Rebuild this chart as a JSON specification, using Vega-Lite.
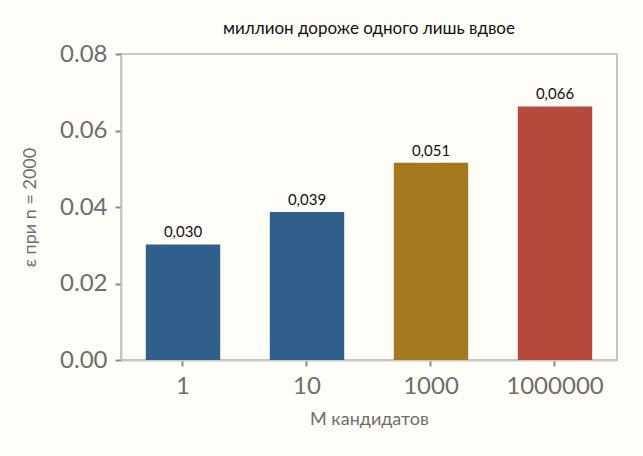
{
  "$schema": "https://vega.github.io/schema/vega-lite/v6.json",
  "autosize": {"type": "none"},
  "padding": {"left": 121, "top": 54, "right": 26, "bottom": 96},
  "width": 496,
  "height": 306,
  "background": "#fffdf7",
  "title": {
    "text": "миллион дороже одного лишь вдвое",
    "font": "Lato",
    "fontSize": 17,
    "fontWeight": "normal",
    "color": "#111111",
    "offset": 4
  },
  "config": {
    "view": {"stroke": "#c8c8c0", "strokeWidth": 2},
    "axis": {
      "labelFont": "Lato",
      "titleFont": "Lato",
      "labelColor": "#6e6e6a",
      "titleColor": "#6e6e6a",
      "domainColor": "#c8c8c0",
      "domainWidth": 2,
      "tickColor": "#8a8a86",
      "tickWidth": 2,
      "tickSize": 6,
      "grid": false,
      "labelFontSize": 24,
      "titleFontSize": 18,
      "titleFontWeight": "normal"
    }
  },
  "data": {
    "values": [
      {"M": "1", "eps": 0.0302, "label": "0,030", "group": "a"},
      {"M": "10", "eps": 0.0387, "label": "0,039", "group": "a"},
      {"M": "1000", "eps": 0.0516, "label": "0,051", "group": "b"},
      {"M": "1000000", "eps": 0.0663, "label": "0,066", "group": "c"}
    ]
  },
  "encoding": {
    "x": {
      "field": "M",
      "type": "ordinal",
      "sort": null,
      "title": "M кандидатов",
      "scale": {"paddingInner": 0.4, "paddingOuter": 0.2},
      "axis": {"labelAngle": 0, "labelPadding": 8, "titlePadding": 12}
    },
    "y": {
      "field": "eps",
      "type": "quantitative",
      "title": "ε при n = 2000",
      "scale": {"domain": [0, 0.08], "nice": false},
      "axis": {"values": [0, 0.02, 0.04, 0.06, 0.08], "format": ".2f", "labelPadding": 8, "titleX": -82}
    }
  },
  "layer": [
    {
      "mark": {"type": "bar"},
      "encoding": {
        "color": {
          "field": "group",
          "type": "nominal",
          "legend": null,
          "scale": {"domain": ["a", "b", "c"], "range": ["#2f5f8a", "#a3781f", "#b5493b"]}
        }
      }
    },
    {
      "mark": {"type": "text", "baseline": "bottom", "dy": -4, "font": "Lato", "fontSize": 15, "color": "#111111"},
      "encoding": {"text": {"field": "label"}}
    }
  ]
}
